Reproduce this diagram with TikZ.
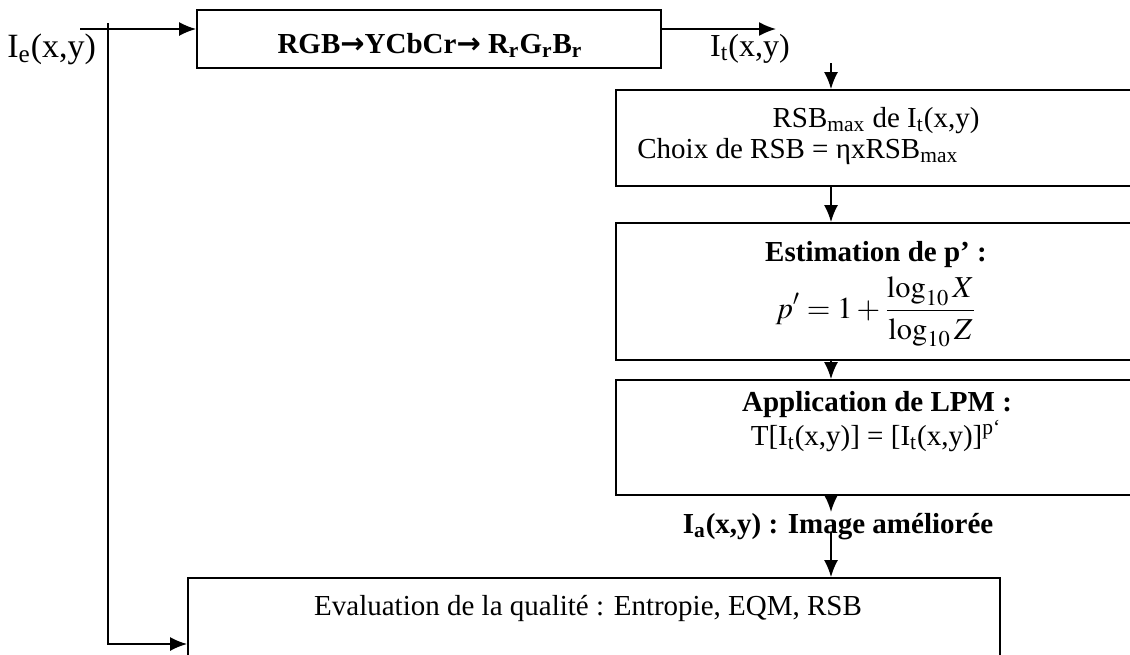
\documentclass[tikz,border=0pt]{standalone}
\usepackage{mathptmx}
\usepackage{fontspec}
\setmainfont{Liberation Serif}
\newfontfamily\arrowfont{DejaVu Sans}
\usetikzlibrary{arrows.meta,fit}
\begin{document}
\begin{tikzpicture}[x=0.5pt,y=-0.5pt,
  box/.style={draw, line width=0.9pt, inner sep=0pt},
  arr/.style={line width=0.9pt, -{Latex[length=8.5pt,width=7pt]}},
  txt/.style={font=\fontsize{14.5}{17}\selectfont, inner sep=0pt, anchor=base},
  ltxt/.style={font=\fontsize{17}{20}\selectfont, inner sep=0pt, anchor=base},
  btxt/.style={font=\fontsize{14.5}{17}\selectfont\bfseries, inner sep=0pt, anchor=base},
  mtxt/.style={font=\fontsize{15.2}{18}\selectfont, inner sep=0pt}]
\useasboundingbox (0,0) rectangle (1130,654);
\clip (0,0) rectangle (1130,654);
% boxes
\node[box, fit={(197,10)(661,68)}] (rgb) {};
\node[box, fit={(616,90)(1136,186)}] (rsb) {};
\node[box, fit={(616,223)(1136,360)}] (est) {};
\node[box, fit={(616,380)(1136,495)}] (lpm) {};
\node[box, fit={(188,578)(1000,720)}] (ev) {};
% texts
\node[btxt] (rgbt) at (430,53) {RGB{\arrowfont\bfseries →}YCbCr{\arrowfont\bfseries →} R\textsubscript{r}G\textsubscript{r}B\textsubscript{r}};
\node[ltxt, anchor=base west] (ie) at (7,57) {I\textsubscript{e}(x,y)};
\node[ltxt, font=\fontsize{16}{19}\selectfont] (it) at (750,56) {I\textsubscript{t}(x,y)};
\node[txt] (rsb1) at (876,127) {RSB\textsubscript{max} de I\textsubscript{t}(x,y)};
\node[txt, anchor=base west] (rsb2) at (637,158) {Choix de RSB = ηxRSB\textsubscript{max}};
\node[btxt] (est1) at (876,261) {Estimation de p’ :};
\node[mtxt] (est2) at (876,312) {$\displaystyle p' = 1 + \frac{\log_{10} X}{\log_{10} Z}$};
\node[btxt] (lpm1) at (877,411) {Application de LPM :};
\node[txt] (lpm2) at (876,445) {T[I\textsubscript{t}(x,y)] = [I\textsubscript{t}(x,y)]\textsuperscript{p`}};
\node[btxt] (ia) at (838,533) {I\textsubscript{a}(x,y) : Image améliorée};
\node[txt] (evt) at (588,615) {Evaluation de la qualité : Entropie, EQM, RSB};
% connectors
\coordinate (ieout) at (80,29);
\coordinate (vtop) at (108,23);
\coordinate (vbot) at (108,644);
\coordinate (itend) at (776,29);
\coordinate (rsbin) at (831,63);
\coordinate (iabot) at (831,512);
\coordinate (iaout) at (831,532);
\draw[arr] (ieout) -- (rgb.west |- ieout);
\draw[arr] (vtop) -- (vbot) -- (ev.west |- vbot);
\draw[arr] (rgb.east |- itend) -- (itend);
\draw[arr] (rsbin) -- (rsb.north -| rsbin);
\draw[arr] (rsb.south -| rsbin) -- (est.north -| rsbin);
\draw[arr] (est.south -| rsbin) -- (lpm.north -| rsbin);
\draw[arr] (lpm.south -| rsbin) -- (iabot);
\draw[arr] (iaout) -- (ev.north -| iaout);
\end{tikzpicture}
\end{document}
